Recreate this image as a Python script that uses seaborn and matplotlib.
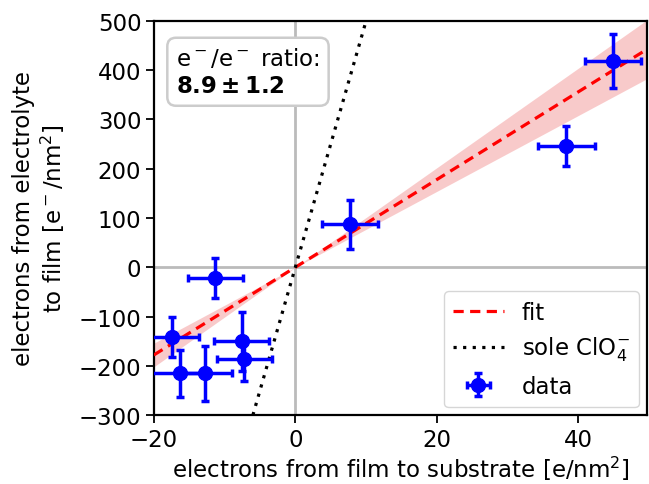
import numpy as np
import pandas as pd
import matplotlib
matplotlib.use("Agg")
import matplotlib.pyplot as plt
import seaborn as sns

# data
x_vals = [7.7, 38.3, 44.9, -11.3, -17.5, -16.3, -12.8, -7.6, -7.2]
y_vals = [87, 246, 418, -22, -142, -215, -215, -150, -187]
x_err = [4.0, 4.0, 4.0, 3.9, 3.9, 3.9, 3.9, 3.9, 3.9]
y_err = [50, 40, 55, 41, 41, 48, 56, 60, 44]

fit_slope = 8.9
fit_err = 1.2
sole_slope = 50.0
x_line = [-20, 50]
x_sole = [-6, 10]

sns.set_style("ticks", rc={"text.color": "black", "axes.labelcolor": "black",
                           "xtick.color": "black", "ytick.color": "black",
                           "axes.edgecolor": "black"})
plt.rcParams['font.family'] = ['DejaVu Sans']
plt.rcParams['mathtext.fontset'] = 'dejavusans'

FS = 16.5

fig, ax = plt.subplots(figsize=(6.49, 4.85), dpi=100)
fig.subplots_adjust(left=0.237, right=0.997, top=0.955, bottom=0.142)

ax.axvline(0, color='#bbbbbb', lw=2, zorder=0)
ax.axhline(0, color='#bbbbbb', lw=2, zorder=0)

xl = np.array(x_line, dtype=float)
ax.fill_between(xl, (fit_slope - fit_err) * xl, (fit_slope + fit_err) * xl,
                color='#f4a0a0', alpha=0.55, lw=0, zorder=1)

df_fit = pd.DataFrame({"x": xl, "y": fit_slope * xl})
sns.lineplot(data=df_fit, x="x", y="y", ax=ax, color='red', lw=2.3,
             linestyle=(0, (3.2, 2.0)), label='fit', zorder=3)
xs = np.array(x_sole, dtype=float)
df_sole = pd.DataFrame({"x": xs, "y": sole_slope * xs})
sns.lineplot(data=df_sole, x="x", y="y", ax=ax, color='black', lw=2.3,
             linestyle=(0, (1, 2)), label=r'sole ClO$_4^{-}$', zorder=3)

ax.errorbar(x_vals, y_vals, xerr=x_err, yerr=y_err, fmt='o', color='blue',
            ms=10, elinewidth=2.5, capsize=3, capthick=2.5, label='data', zorder=4)

ax.set_xlim(-20, 49.7)
ax.set_ylim(-300, 500)
ax.set_xticks([-20, 0, 20, 40])
ax.set_yticks(range(-300, 501, 100))
ax.tick_params(labelsize=FS, width=1.3, length=6, pad=3)
for s in ax.spines.values():
    s.set_linewidth(1.6)
    s.set_color('black')

ax.set_xlabel(r'electrons from film to substrate [e/nm$^2$]', fontsize=FS, labelpad=2)
ax.set_ylabel('electrons from electrolyte\n' + r'to film [e$^-$/nm$^2$]', fontsize=FS, labelpad=8)

ax.text(0.045, 0.935, 'e$^-$/e$^-$ ratio:\n' + r'$\mathbf{8.9 \pm 1.2}$',
        transform=ax.transAxes, fontsize=FS, va='top', ha='left', linespacing=1.2,
        bbox=dict(boxstyle='round,pad=0.38', fc='white', ec='#cccccc', lw=1.8))

ax.legend(loc='lower right', fontsize=FS, frameon=True, edgecolor='#cccccc',
          handlelength=2.2, borderaxespad=0.35)

fig.savefig('out.png', dpi=100)
